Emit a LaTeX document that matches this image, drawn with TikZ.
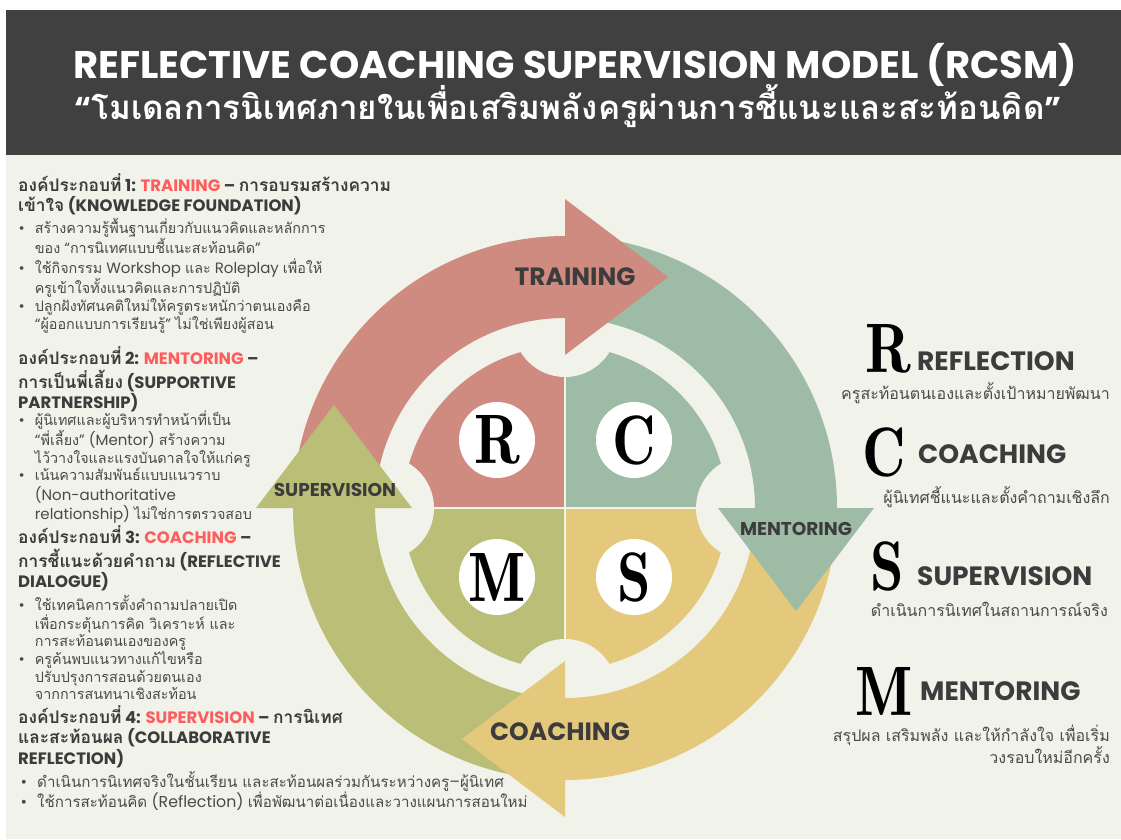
\documentclass[tikz,border=0pt]{standalone}
\usepackage{fontspec}
\usepackage{tikz}
\usetikzlibrary{calc}
\newfontfamily\popfont{Poppins}
\newfontfamily\thaifont[Script=Thai, Scale=0.957]{Loma}
\newfontfamily\thaihead[Script=Thai, Scale=1.05]{Loma}
\newfontfamily\didone[FakeStretch=0.86]{lmromandemi10-regular.otf}
\newcommand{\tha}[1]{{\thaifont #1}}
\definecolor{paper}{HTML}{F1F2EA}
\definecolor{headbar}{HTML}{404040}
\definecolor{redq}{HTML}{CF8B80}
\definecolor{tealq}{HTML}{9DBBA5}
\definecolor{oliveq}{HTML}{BBBE77}
\definecolor{yellowq}{HTML}{E4C97D}
\definecolor{hilite}{HTML}{FF5C5C}
\definecolor{ink}{HTML}{3C3C3C}
\definecolor{inkgray}{HTML}{4A4A4A}
\tikzstyle{headtxt} = [anchor=base west, inner sep=0pt, text=ink, font={\popfont\bfseries\let\thaifont\thaihead\fontsize{16.5}{18.8}\selectfont}]
\tikzstyle{bultxt} = [anchor=base west, inner sep=0pt, text=inkgray, font={\popfont\fontsize{15}{17}\selectfont}]
\tikzstyle{ringlbl} = [text=ink, inner sep=0pt]
\tikzstyle{badge} = [circle, fill=white, minimum size=76pt, inner sep=0pt, font={\didone\fontsize{70}{70}\selectfont}]
\tikzstyle{bigletter} = [inner sep=0pt, font={\didone\fontsize{70}{70}\selectfont}]
\tikzstyle{keyword} = [anchor=base west, inner sep=0pt, text=ink, font={\popfont\bfseries\fontsize{26.5}{26.5}\selectfont}]
\tikzstyle{keydesc} = [anchor=base east, inner sep=0pt, text=inkgray, font={\thaifont\fontsize{16.7}{19.3}\selectfont}]

\begin{document}
\begin{tikzpicture}[x=1pt, y=-1pt]
        \useasboundingbox (0,0) rectangle (1121,839);
        \fill[white] (0,0) rectangle (1121,839);
        \fill[paper] (6,155) rectangle (1121,839);
        \fill[headbar] (6,10) rectangle (1121,155);
        \node[text=white, anchor=base, font={\popfont\bfseries\fontsize{38.5}{38.5}\selectfont}] (title) at (575,78) {REFLECTIVE COACHING SUPERVISION MODEL (RCSM)};
        \node[text=white, anchor=base, font={\popfont\bfseries\let\thaifont\thaihead\fontsize{28.6}{28.6}\selectfont}] (subtitle) at (568,119) {\resizebox{987pt}{!}{“\tha{โมเดลการนิเทศภายในเพื่อเสริมพลังครูผ่านการชี้แนะและสะท้อนคิด}”}};

        \begin{scope}[shift={(565,508)}, yscale=-1]
          \fill[redq] (0,0) -- (90:162) arc[start angle=90, end angle=180, radius=162] -- cycle;
          \fill[tealq] (0,0) -- (0:162) arc[start angle=0, end angle=90, radius=162] -- cycle;
          \fill[yellowq] (0,0) -- (270:162) arc[start angle=270, end angle=360, radius=162] -- cycle;
          \fill[oliveq] (0,0) -- (180:162) arc[start angle=180, end angle=270, radius=162] -- cycle;
          \draw[paper, line width=1.5pt] (-165,0) -- (165,0) (0,-165) -- (0,165);
          \foreach \a in {0,90,180,270}
            \fill[paper] (\a:183) circle[radius=52];
          \foreach \s/\col [evaluate=\s as \e using \s-90] in {180/redq,90/tealq,0/yellowq,270/oliveq}
            \fill[\col] (\s:272) arc[start angle=\s, end angle=\e, radius=272] -- (\e:190) arc[start angle=\e, end angle=\s, radius=190] -- cycle;
          \foreach \s/\col [evaluate=\s as \e using \s-90] in {90/redq,0/tealq,-90/yellowq,180/oliveq}
            \fill[\col] (\s:153) -- (\s:309) -- ($(\s:231)+(\e:103)$) -- cycle;
          \node[badge] (qR) at (-68,68) {R};
          \node[badge] (qC) at (69,68) {C};
          \node[badge] (qM) at (-68,-69) {M};
          \node[badge] (qS) at (69,-69) {S};
          \node[ringlbl, font={\popfont\bfseries\fontsize{25}{25}\selectfont}] (lblT) at (10,231) {TRAINING};
          \node[ringlbl, font={\popfont\bfseries\fontsize{18.5}{18.5}\selectfont}] (lblM) at (231,-21) {MENTORING};
          \node[ringlbl, font={\popfont\bfseries\fontsize{25}{25}\selectfont}] (lblC) at (-5,-224) {COACHING};
          \node[ringlbl, font={\popfont\bfseries\fontsize{18.5}{18.5}\selectfont}] (lblS) at (-230,18) {SUPERVISION};
        \end{scope}

        \node[headtxt] (h1) at (18,191) {\begin{tabular}[t]{@{}l@{}}\tha{องค์ประกอบที่} 1: \textcolor{hilite}{TRAINING} – \tha{การอบรมสร้างความ}\\ \tha{เข้าใจ} (KNOWLEDGE FOUNDATION)\end{tabular}};
        \node[bultxt] (b1) at (18.5,233) {\begin{tabular}[t]{@{}l@{\hspace{10pt}}l@{}}
          • & \tha{สร้างความรู้พื้นฐานเกี่ยวกับแนวคิดและหลักการ}\\
            & \tha{ของ} “\tha{การนิเทศแบบชี้แนะสะท้อนคิด}”\\
          • & \tha{ใช้กิจกรรม} Workshop \tha{และ} Roleplay \tha{เพื่อให้}\\
            & \tha{ครูเข้าใจทั้งแนวคิดและการปฏิบัติ}\\
          • & \tha{ปลูกฝังทัศนคติใหม่ให้ครูตระหนักว่าตนเองคือ}\\
            & “\tha{ผู้ออกแบบการเรียนรู้}” \tha{ไม่ใช่เพียงผู้สอน}\end{tabular}};

        \node[headtxt] (h2) at (18,364) {\begin{tabular}[t]{@{}l@{}}\tha{องค์ประกอบที่} 2: \textcolor{hilite}{MENTORING} –\\ \tha{การเป็นพี่เลี้ยง} (SUPPORTIVE\\ PARTNERSHIP)\end{tabular}};
        \node[bultxt] (b2) at (18.5,425) {\begin{tabular}[t]{@{}l@{\hspace{10pt}}l@{}}
          • & \tha{ผู้นิเทศและผู้บริหารทำหน้าที่เป็น}\\
            & “\tha{พี่เลี้ยง}” (Mentor) \tha{สร้างความ}\\
            & \tha{ไว้วางใจและแรงบันดาลใจให้แก่ครู}\\
          • & \tha{เน้นความสัมพันธ์แบบแนวราบ}\\
            & (Non-authoritative\\
            & relationship) \tha{ไม่ใช่การตรวจสอบ}\end{tabular}};

        \node[headtxt] (h3) at (18,543) {\begin{tabular}[t]{@{}l@{}}\tha{องค์ประกอบที่} 3: \textcolor{hilite}{COACHING} –\\ \tha{การชี้แนะด้วยคำถาม} (REFLECTIVE\\ DIALOGUE)\end{tabular}};
        \node[bultxt] (b3) at (18.5,610) {\begin{tabular}[t]{@{}l@{\hspace{10pt}}l@{}}
          • & \tha{ใช้เทคนิคการตั้งคำถามปลายเปิด}\\
            & \tha{เพื่อกระตุ้นการคิด วิเคราะห์ และ}\\
            & \tha{การสะท้อนตนเองของครู}\\
          • & \tha{ครูค้นพบแนวทางแก้ไขหรือ}\\
            & \tha{ปรับปรุงการสอนด้วยตนเอง}\\
            & \tha{จากการสนทนาเชิงสะท้อน}\end{tabular}};

        \node[headtxt] (h4) at (18,723) {\begin{tabular}[t]{@{}l@{}}\tha{องค์ประกอบที่} 4: \textcolor{hilite}{SUPERVISION} – \tha{การนิเทศ}\\ \tha{และสะท้อนผล} (COLLABORATIVE\\ REFLECTION)\end{tabular}};
        \node[bultxt, font={\popfont\fontsize{15.8}{18}\selectfont}] (b4) at (20.5,787) {\begin{tabular}[t]{@{}l@{\hspace{10pt}}l@{}}
          • & \tha{ดำเนินการนิเทศจริงในชั้นเรียน และสะท้อนผลร่วมกันระหว่างครู}–\tha{ผู้นิเทศ}\\
          • & \tha{ใช้การสะท้อนคิด} (Reflection) \tha{เพื่อพัฒนาต่อเนื่องและวางแผนการสอนใหม่}\end{tabular}};

        \node[bigletter] (kR) at (888,349) {R};
        \node[keyword] (wR) at (917,370) {REFLECTION};
        \node[keydesc] (dR) at (1110,399) {ครูสะท้อนตนเองและตั้งเป้าหมายพัฒนา};
        \node[bigletter] (kC) at (884,452) {C};
        \node[keyword] (wC) at (918,463) {COACHING};
        \node[keydesc] (dC) at (1110,503) {ผู้นิเทศชี้แนะและตั้งคำถามเชิงลึก};
        \node[bigletter] (kS) at (887,566) {S};
        \node[keyword] (wS) at (917,585) {SUPERVISION};
        \node[keydesc] (dS) at (1108,616) {ดำเนินการนิเทศในสถานการณ์จริง};
        \node[bigletter] (kM) at (884,691) {M};
        \node[keyword] (wM) at (920,700) {MENTORING};
        \node[keydesc] (dM) at (1110,741) {\begin{tabular}[t]{@{}r@{}}สรุปผล เสริมพลัง และให้กำลังใจ เพื่อเริ่ม\\ วงรอบใหม่อีกครั้ง\end{tabular}};
      \end{tikzpicture}
\end{document}
